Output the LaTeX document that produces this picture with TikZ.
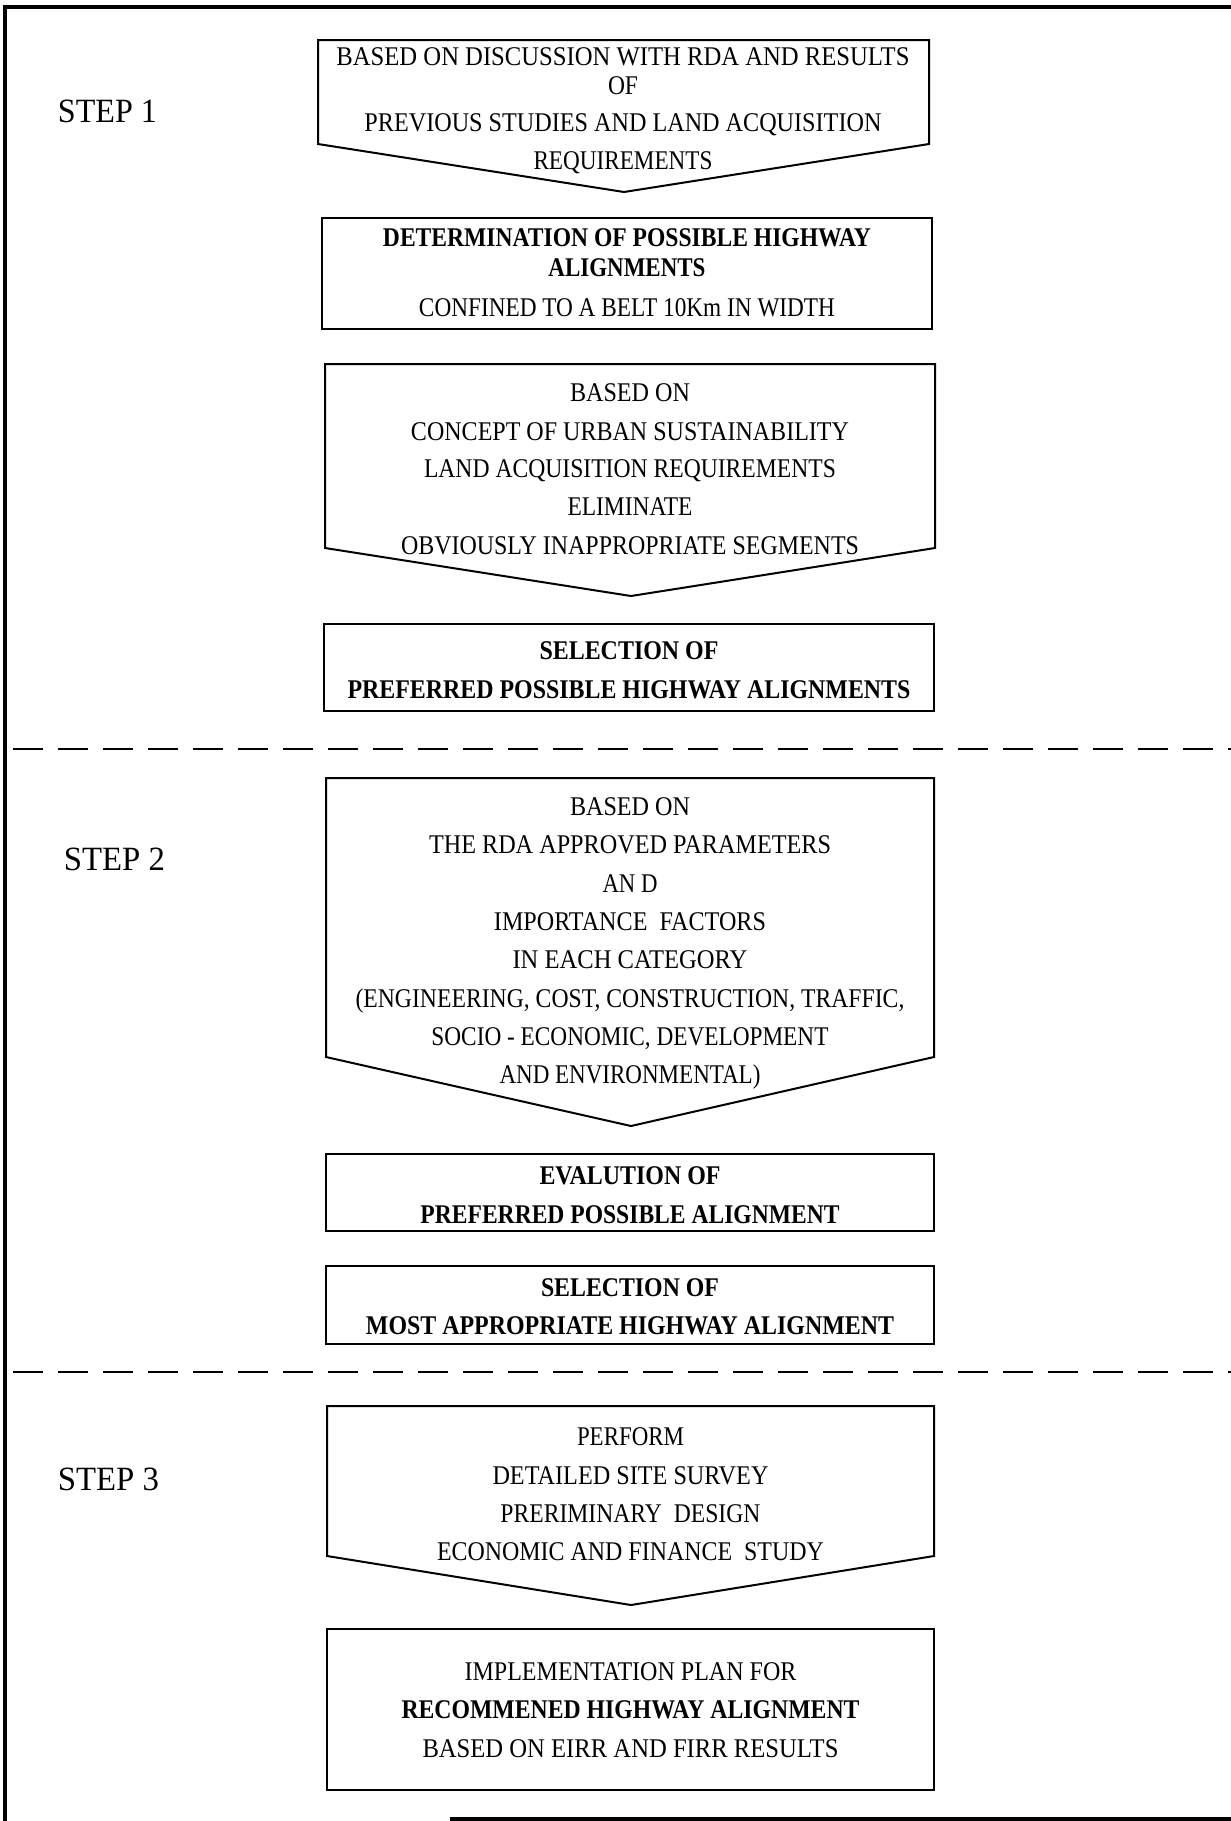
\documentclass[tikz,border=0pt]{standalone}
\usepackage{fontspec}
\setmainfont{Liberation Serif}
\usepackage{graphicx}
\newcommand\fitline[2]{\resizebox{#1pt}{\height}{#2}}
\tikzset{
  frameline/.style={line width=4pt, black},
  boxline/.style={line width=2pt, black, line join=miter},
  sepline/.style={line width=2pt, black, dash pattern=on 30pt off 15pt},
  txt/.style={anchor=base, inner sep=0pt, font=\fontsize{27}{30}\selectfont},
  btxt/.style={anchor=base, inner sep=0pt, font=\fontsize{27}{30}\selectfont\bfseries},
  steplabel/.style={anchor=base, inner sep=0pt, font=\fontsize{34}{40}\selectfont},
}
\begin{document}
\begin{tikzpicture}[x=1pt,y=-1pt]
\useasboundingbox (0,0) rectangle (1231,1821);
\fill[white] (0,0) rectangle (1231,1821);
% frame
\draw[frameline] (5,1821) -- (5,7) -- (1231,7);
\draw[frameline] (450,1819) -- (1231,1819);
% separators
\draw[sepline] (13,749) -- (1231,749);
\draw[sepline] (13,1372) -- (1231,1372);
% step labels
\node[steplabel] (s1) at (107.5,122.5) {\fitline{99}{STEP 1}};
\node[steplabel] (s2) at (114.5,870) {\fitline{101}{STEP 2}};
\node[steplabel] (s3) at (108.5,1490) {\fitline{101}{STEP 3}};
% box 1
\draw[boxline] (318,40) -- (929,40) -- (929,144) -- (624,192) -- (318,144) -- cycle;
\node[txt] (b1a) at (623,65) {\fitline{573}{BASED ON DISCUSSION WITH RDA AND RESULTS}};
\node[txt] (b1b) at (623,94) {\fitline{30}{OF}};
\node[txt] (b1c) at (623,131) {\fitline{517}{PREVIOUS STUDIES AND LAND ACQUISITION}};
\node[txt] (b1d) at (623,169) {\fitline{179}{REQUIREMENTS}};
% box 2
\draw[boxline] (322,218) rectangle (932,329);
\node[btxt] (b2a) at (627,246) {\fitline{488}{DETERMINATION OF POSSIBLE HIGHWAY}};
\node[btxt] (b2b) at (627,276) {\fitline{157}{ALIGNMENTS}};
\node[txt] (b2c) at (627,316) {\fitline{416}{CONFINED TO A BELT 10Km IN WIDTH}};
% box 3
\draw[boxline] (325,364) -- (935,364) -- (935,548) -- (631,596) -- (325,548) -- cycle;
\node[txt] (b3a) at (630,401.5) {\fitline{120}{BASED ON}};
\node[txt] (b3b) at (630,440) {\fitline{438}{CONCEPT OF URBAN SUSTAINABILITY}};
\node[txt] (b3c) at (630,477) {\fitline{412}{LAND ACQUISITION REQUIREMENTS}};
\node[txt] (b3d) at (630,515) {\fitline{125}{ELIMINATE}};
\node[txt] (b3e) at (630,554) {\fitline{458}{OBVIOUSLY INAPPROPRIATE SEGMENTS}};
% box 4
\draw[boxline] (324,624) rectangle (934,711);
\node[btxt] (b4a) at (629,659) {\fitline{179}{SELECTION OF}};
\node[btxt] (b4b) at (629,698) {\fitline{563}{PREFERRED POSSIBLE HIGHWAY ALIGNMENTS}};
% box 5
\draw[boxline] (326,778) -- (934,778) -- (934,1057) -- (631,1126) -- (326,1057) -- cycle;
\node[txt] (b5a) at (630,815) {\fitline{120}{BASED ON}};
\node[txt] (b5b) at (630,853) {\fitline{402}{THE RDA APPROVED PARAMETERS}};
\node[txt] (b5c) at (630,892) {\fitline{55}{AN D}};
\node[txt] (b5d) at (630,930) {\fitline{272}{IMPORTANCE\ \ FACTORS}};
\node[txt] (b5e) at (630,968) {\fitline{235}{IN EACH CATEGORY}};
\node[txt] (b5f) at (630,1007) {\fitline{549}{(ENGINEERING, COST, CONSTRUCTION, TRAFFIC,}};
\node[txt] (b5g) at (630,1045) {\fitline{397}{SOCIO - ECONOMIC, DEVELOPMENT}};
\node[txt] (b5h) at (630,1083) {\fitline{261}{AND ENVIRONMENTAL)}};
% box 6
\draw[boxline] (326,1154) rectangle (934,1231);
\node[btxt] (b6a) at (630,1184) {\fitline{181}{EVALUTION OF}};
\node[btxt] (b6b) at (630,1223) {\fitline{419}{PREFERRED POSSIBLE ALIGNMENT}};
% box 7
\draw[boxline] (326,1266) rectangle (934,1344);
\node[btxt] (b7a) at (630,1296) {\fitline{178}{SELECTION OF}};
\node[btxt] (b7b) at (630,1334) {\fitline{528}{MOST APPROPRIATE HIGHWAY ALIGNMENT}};
% box 8
\draw[boxline] (327,1406) -- (934,1406) -- (934,1556) -- (631,1605) -- (327,1556) -- cycle;
\node[txt] (b8a) at (630.5,1445) {\fitline{107}{PERFORM}};
\node[txt] (b8b) at (630.5,1484) {\fitline{276}{DETAILED SITE SURVEY}};
\node[txt] (b8c) at (630.5,1522) {\fitline{260}{PRERIMINARY\ \ DESIGN}};
\node[txt] (b8d) at (630.5,1560) {\fitline{387}{ECONOMIC AND FINANCE\ \ STUDY}};
% box 9
\draw[boxline] (327,1629) rectangle (934,1790);
\node[txt] (b9a) at (630.5,1680) {\fitline{332}{IMPLEMENTATION PLAN FOR}};
\node[btxt] (b9b) at (630.5,1718) {\fitline{458}{RECOMMENED HIGHWAY ALIGNMENT}};
\node[txt] (b9c) at (630.5,1757) {\fitline{416}{BASED ON EIRR AND FIRR RESULTS}};
\end{tikzpicture}
\end{document}
